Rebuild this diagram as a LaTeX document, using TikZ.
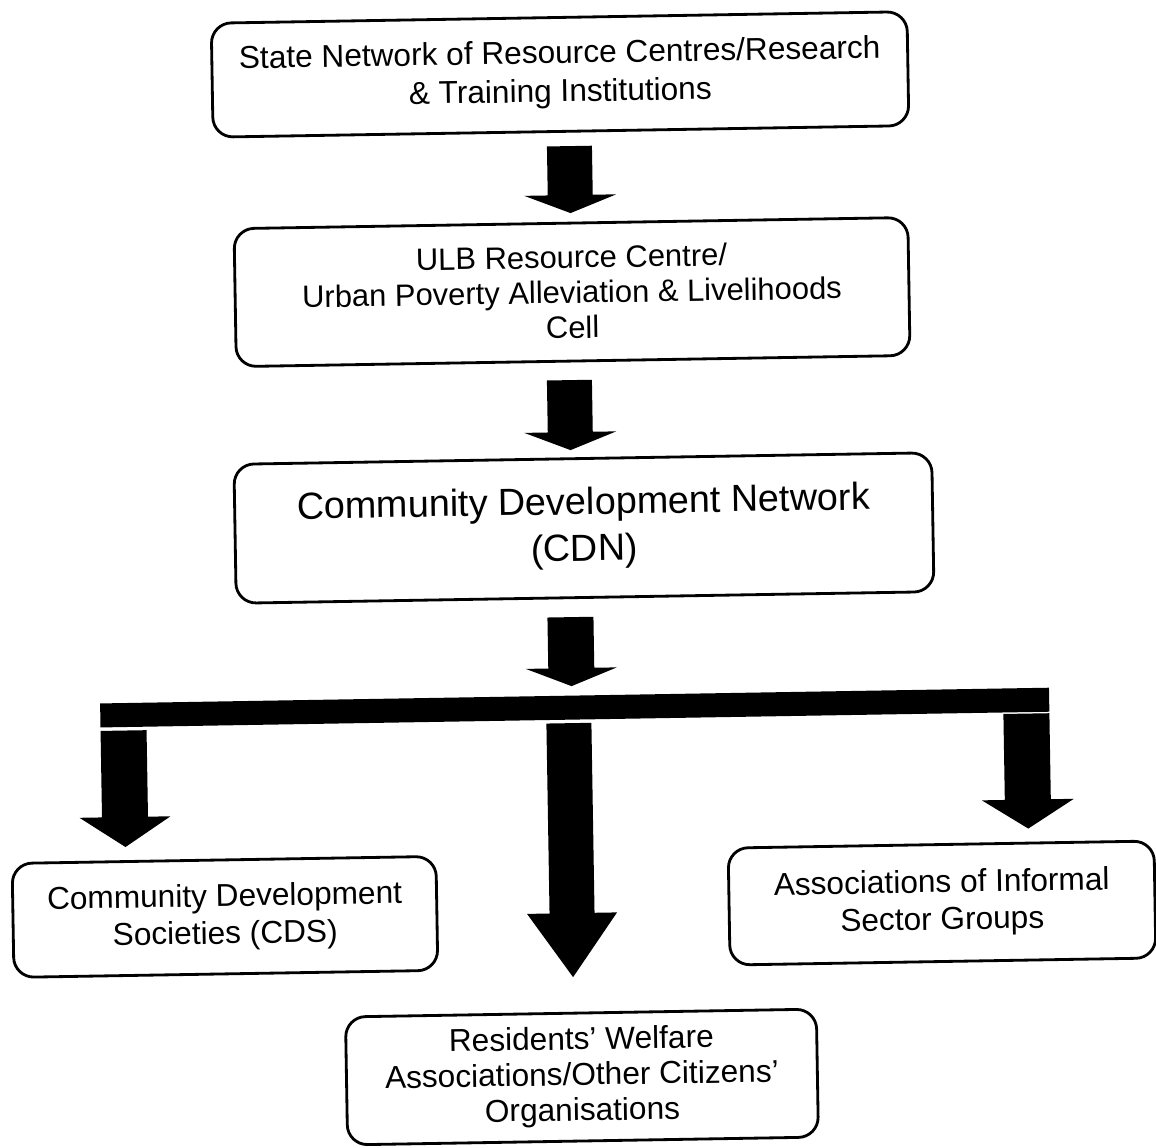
\documentclass[tikz,border=0pt]{standalone}
\usepackage{fontspec}
\setmainfont{Liberation Sans}
\newcommand{\fatarrow}[7]{%
  % #1 x centre, #2 top, #3 head base, #4 tip, #5 half shaft, #6 half head, #7 name
  \fill[black] ({#1-#5},#2) coordinate (#7-top) -- ({#1+#5},#2) -- ({#1+#5},#3) -- ({#1+#6},#3)
    -- (#1,#4) coordinate (#7-tip) -- ({#1-#6},#3) -- ({#1-#5},#3) -- cycle;}
\tikzset{
  box/.style={draw, line width=1.6pt, rounded corners=0.4cm, align=center, inner sep=0pt},
  txtA/.style={font=\fontsize{18}{22}\selectfont},
  txtB/.style={font=\fontsize{17.6}{20}\selectfont},
  txtC/.style={font=\fontsize{21.5}{26.6}\selectfont},
  txtD/.style={font=\fontsize{18}{21.2}\selectfont},
  txtE/.style={font=\fontsize{18}{20.2}\selectfont},
}
\begin{document}
\begin{tikzpicture}[x=0.02cm, y=-0.02cm]
\useasboundingbox[fill=white] (0,0) rectangle (1156,1147);
\begin{scope}[rotate around={0.95:(578,573)}, transform shape]
\node[box, txtA, minimum width=13.92cm, minimum height=2.28cm] (state) at (568.3,74.2)
  {State Network of Resource Centres/Research\\\& Training Institutions};
\node[box, txtB, minimum width=13.48cm, minimum height=2.76cm] (ulb) at (576.7,292)
  {ULB Resource Centre/\\Urban Poverty Alleviation \& Livelihoods\\Cell};
\node[box, txtC, minimum width=13.96cm, minimum height=2.78cm] (cdn) at (584.7,528.1)
  {Community Development Network\\(CDN)};
\node[box, txtD, minimum width=8.48cm, minimum height=2.28cm] (cds) at (219.3,911)
  {Community Development\\Societies (CDS)};
\node[box, txtD, minimum width=8.52cm, minimum height=2.34cm] (isg) at (936.5,909)
  {Associations of Informal\\Sector Groups};
\node[box, txtE, minimum width=9.42cm, minimum height=2.56cm] (rwa) at (573.6,1077)
  {Residents' Welfare\\Associations/Other Citizens'\\Organisations};
\fatarrow{576.5}{146}{195}{213}{22.5}{46}{a1}
\fatarrow{572.6}{380}{432}{450}{22.5}{46}{a2}
\fatarrow{569.7}{617}{668}{686}{23}{45.5}{a3}
\fill[black] (98,695.5) rectangle (1047,719.5);
\fatarrow{121}{723}{809.5}{839.5}{23}{45.5}{a4}
\fatarrow{566.4}{723}{913}{977}{22.5}{45}{a5}
\fatarrow{1024}{721}{807}{836}{23}{46}{a6}
\end{scope}
\end{tikzpicture}
\end{document}
